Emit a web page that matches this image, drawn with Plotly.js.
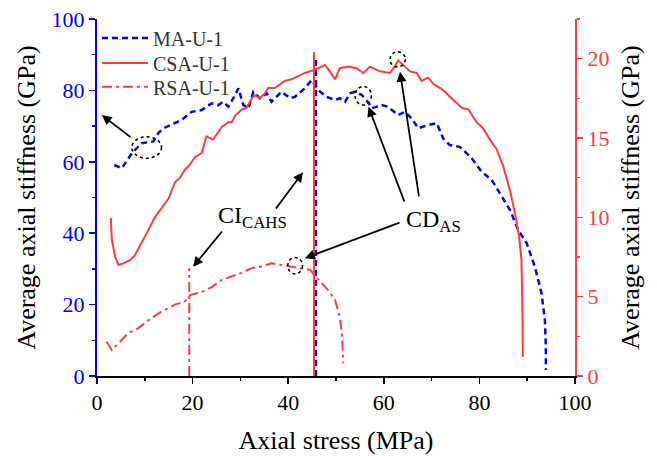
<!DOCTYPE html>
<html><head><meta charset="utf-8">
<script src="https://cdn.plot.ly/plotly-3.0.1.min.js"></script>
<style>body{margin:0;background:#fff}</style>
</head><body><div id="chart" style="width:657px;height:456px"></div>
<script>
// MA-U-1 (left axis, GPa)
const maStress = [3.6,5.2,7.3,9.3,11.8,12.8,13.9,16.3,17.7,19.8,21.9,24.0,25.4,26.4,27.5,28.5,29.6,30.6,31.7,32.7,34.1,35.5,36.5,38.6,40.4,41.4,43.5,44.9,45.6,46.3,48.0,49.8,50.8,51.9,52.9,54.0,55.4,56.8,57.5,59.6,60.9,63.0,64.4,65.8,67.2,69.3,71.1,72.4,73.8,75.9,78.4,80.5,82.6,84.7,86.4,88.1,89.9,91.6,93.0,93.7,93.9,93.9];
const maStiff = [59.1,58.2,62.4,65.2,65.7,68.0,69.4,70.8,71.7,74.0,74.5,76.4,75.9,76.8,75.4,77.8,80.6,75.9,75.0,79.6,77.8,79.2,76.8,79.6,77.8,78.2,80.6,82.9,81.5,80.1,78.2,77.3,77.8,76.8,79.2,79.6,78.7,76.5,75.0,75.9,75.4,73.1,74.0,72.2,69.4,70.3,70.8,66.6,64.7,64.2,61.0,57.2,54.9,50.2,46.5,40.9,37.2,30.6,23.2,15.7,8.2,1.7];
// CSA-U-1 (right axis, GPa)
const csaStress = [2.9,3.1,3.8,4.5,5.5,6.9,7.9,9.0,10.0,11.1,12.1,13.5,15.0,16.3,17.4,18.4,19.4,20.5,21.9,22.9,24.3,26.1,27.5,28.2,28.9,30.3,31.3,32.4,33.1,34.1,35.1,35.8,37.2,39.3,40.7,42.1,43.5,45.6,47.7,48.7,49.8,50.8,52.6,54.3,55.7,57.1,59.2,61.3,62.3,63.0,64.1,65.5,66.9,67.9,69.3,70.4,71.8,72.8,74.9,76.3,77.7,79.4,80.8,82.2,83.6,85.0,86.4,87.4,88.3,88.8,89.0,89.1];
const csaStiff = [9.95,8.6,7.5,7.0,7.1,7.3,7.6,8.2,8.8,9.4,10.0,10.6,11.2,12.2,12.5,13.0,13.3,13.8,14.05,15.1,14.9,15.7,16.0,16.0,16.4,16.8,16.9,17.5,17.7,17.5,17.8,18.15,18.15,18.6,18.7,18.9,19.1,19.3,19.6,19.2,18.7,19.4,19.5,19.4,19.1,19.5,19.2,19.1,19.5,19.9,19.6,19.2,19.1,18.6,18.8,18.4,18.15,17.9,17.3,16.9,16.8,16.0,15.6,14.9,14.3,13.2,11.7,10.3,8.8,7.3,4.0,1.2];
// RSA-U-1 (right axis, GPa)
const rsaStress = [2.0,3.1,4.5,6.5,8.6,10.7,13.5,16.3,18.4,19.5,21.9,24.0,26.1,28.2,30.3,32.4,34.5,36.5,38.6,40.7,42.8,44.6,45.6,47.0,48.4,49.8,50.8,51.3,51.5];
const rsaStiff = [2.16,1.64,2.06,2.7,3.0,3.5,4.06,4.5,4.7,5.1,5.3,5.6,6.06,6.3,6.5,6.8,6.9,7.1,7.0,6.9,6.8,6.7,6.3,5.85,5.4,4.8,3.7,2.5,0.8];
// CI_CAHS marker lines
const ciRsaX = [19.3,19.3], ciRsaY = [0,6.8];
const ciCsaX = [45.4,45.4], ciCsaY = [0,20.4];
const ciMaX = [45.8,45.8], ciMaY = [0,89.6];
const seriesNames = ['MA-U-1','CSA-U-1','RSA-U-1'];

const BLUE = '#0000ff', RED = '#ff3c3c';
const FONT = '"Liberation Serif", serif';

const traces = [
  {x: maStress, y: maStiff, name: seriesNames[0], mode:'lines', yaxis:'y', legend:'legend',
   line:{color:BLUE, width:2.5, dash:'6px,4px'}},
  {x: ciMaX, y: ciMaY, mode:'lines', yaxis:'y', showlegend:false, hoverinfo:'skip',
   line:{color:BLUE, width:2.5, dash:'6px,4px'}},
  {x: csaStress, y: csaStiff, name: seriesNames[1], mode:'lines', yaxis:'y2', legend:'legend2',
   line:{color:RED, width:2}},
  {x: ciCsaX, y: ciCsaY, mode:'lines', yaxis:'y2', showlegend:false, hoverinfo:'skip',
   line:{color:RED, width:2}},
  {x: rsaStress, y: rsaStiff, name: seriesNames[2], mode:'lines', yaxis:'y2', legend:'legend3',
   line:{color:RED, width:2, dash:'10px,4px,3px,4px'}},
  {x: ciRsaX, y: ciRsaY, mode:'lines', yaxis:'y2', showlegend:false, hoverinfo:'skip',
   line:{color:RED, width:2, dash:'10px,4px,3px,4px'}}
];

function arrow(hx, hy, tx, ty){
  return {x:hx, y:hy, ax:tx, ay:ty, xref:'x', yref:'y', axref:'x', ayref:'y',
    text:'', showarrow:true, arrowhead:2, arrowsize:1.1, arrowwidth:1.8, arrowcolor:'#000'};
}
function ring(x0,x1,y0,y1){
  return {type:'circle', xref:'x', yref:'y', x0:x0, x1:x1, y0:y0, y1:y1,
    line:{color:'#000', width:1.6, dash:'dot'}};
}
function leg(yc){
  return {x:0.0, y:yc, xanchor:'left', yanchor:'middle', bgcolor:'rgba(0,0,0,0)',
    itemwidth:46, font:{family:FONT, size:20, color:'#333'}};
}

const layout = {
  width:657, height:456,
  margin:{l:97, r:82, t:19, b:80},
  paper_bgcolor:'#fff', plot_bgcolor:'#fff',
  font:{family:FONT, size:20, color:'#000'},
  showlegend:true,
  legend:leg(0.947), legend2:leg(0.877), legend3:leg(0.810),
  xaxis:{range:[0,100], dtick:20, ticks:'outside', ticklen:6, tickwidth:1.5, tickcolor:'#000',
    showline:true, linecolor:'#000', linewidth:2, showgrid:false, zeroline:false,
    minor:{dtick:10, ticks:'outside', ticklen:3, tickwidth:1.5, tickcolor:'#000', showgrid:false},
    tickfont:{family:FONT, size:22, color:'#000'},
    title:{text:'Axial stress (MPa)', font:{family:FONT, size:26, color:'#000'}, standoff:16}},
  xaxis2:{overlaying:'x', side:'top', range:[0,100], dtick:10, ticks:'inside', ticklen:5,
    tickwidth:1.5, tickcolor:'#000', showticklabels:false, showline:true, linecolor:'#000',
    linewidth:2, showgrid:false, zeroline:false, anchor:'y'},
  yaxis:{range:[0,100], dtick:20, ticks:'outside', ticklen:6, tickwidth:1.5, tickcolor:BLUE,
    showline:true, linecolor:BLUE, linewidth:2, showgrid:false, zeroline:false,
    minor:{dtick:10, ticks:'outside', ticklen:3, tickwidth:1.5, tickcolor:BLUE, showgrid:false},
    tickfont:{family:FONT, size:22, color:BLUE},
    title:{text:'Average axial stiffness (GPa)', font:{family:FONT, size:26, color:'#000'}, standoff:8}},
  yaxis2:{overlaying:'y', side:'right', anchor:'x', range:[0,22.5], dtick:5, ticks:'outside',
    ticklen:6, tickwidth:1.5, tickcolor:RED, showline:true, linecolor:RED, linewidth:2,
    showgrid:false, zeroline:false,
    minor:{dtick:2.5, ticks:'outside', ticklen:3, tickwidth:1.5, tickcolor:RED, showgrid:false},
    tickfont:{family:FONT, size:22, color:RED},
    title:{text:'Average axial stiffness (GPa)', font:{family:FONT, size:26, color:'#000'}, standoff:12}},
  shapes:[
    ring(7.3,13.5,61,67),
    ring(54.0,57.4,75.9,81.1),
    ring(61.3,64.5,86.6,90.8),
    ring(39.9,43.0,28.6,33.2)
  ],
  annotations:[
    arrow(1.0,73.1,7.3,66.6),
    arrow(20.1,30.6,26.4,40.9),
    arrow(43.1,57.1,37.2,46.5),
    arrow(56.8,75.4,64.4,48.5),
    arrow(63.4,85.2,67.4,49.9),
    arrow(43.5,33.0,63.6,43.1),
    {x:32.6, y:44.5, xref:'x', yref:'y', showarrow:false, text:'CI<sub>CAHS</sub>',
     font:{family:FONT, size:24, color:'#000'}},
    {x:70.5, y:43.4, xref:'x', yref:'y', showarrow:false, text:'CD<sub>AS</sub>',
     font:{family:FONT, size:24, color:'#000'}}
  ]
};

Plotly.newPlot('chart', traces, layout, {displayModeBar:false, staticPlot:true});
</script></body></html>
